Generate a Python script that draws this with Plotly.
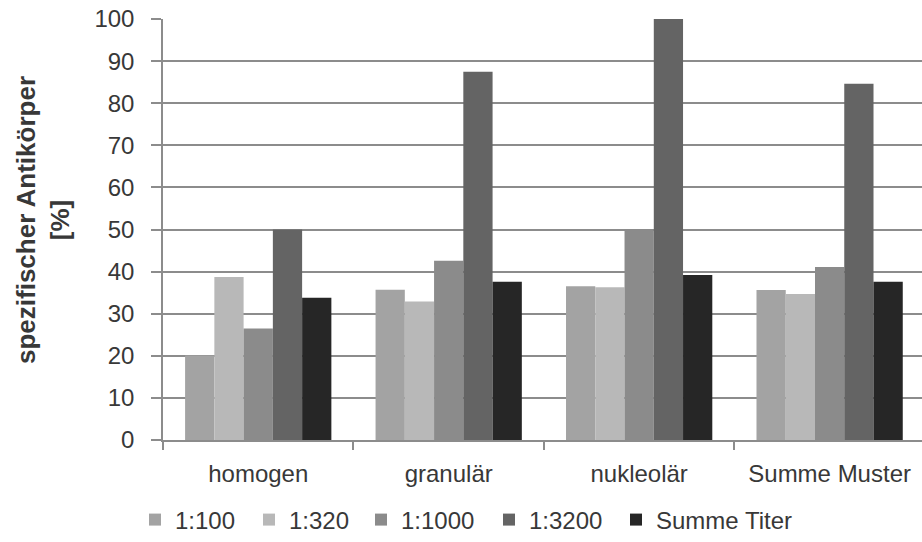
import plotly.graph_objects as go

categories = ["homogen", "granulär", "nukleolär", "Summe Muster"]
series_names = ["1:100", "1:320", "1:1000", "1:3200", "Summe Titer"]
values_1_100 = [20.1, 35.7, 36.5, 35.6]
values_1_320 = [38.7, 32.9, 36.3, 34.7]
values_1_1000 = [26.5, 42.6, 50.1, 41.1]
values_1_3200 = [50.0, 87.5, 100.0, 84.6]
values_summe = [33.8, 37.6, 39.2, 37.6]
y_ticks = [0, 10, 20, 30, 40, 50, 60, 70, 80, 90, 100]

all_values = [values_1_100, values_1_320, values_1_1000, values_1_3200, values_summe]
colors = ["#a3a3a3", "#b8b8b8", "#8b8b8b", "#646464", "#262626"]
text_color = "#383838"

L, T, R, B = 163, 19, 0, 102
FIG_W, FIG_H = 922, 542
W = FIG_W - L - R
H = FIG_H - T - B

# left edge (px) of each legend entry
legend_px = [135, 249, 361, 489, 616]

fig = go.Figure()
layout_legends = {}
for i, (name, vals, col) in enumerate(zip(series_names, all_values, colors)):
    key = "legend" if i == 0 else f"legend{i+1}"
    fig.add_trace(go.Bar(
        x=categories, y=vals, name=name, legend=key,
        marker=dict(color=col, line=dict(color=col, width=0)),
    ))
    layout_legends[key] = dict(
        orientation="h", x=(legend_px[i] - L) / W, xanchor="left",
        y=-0.19, yanchor="middle", font=dict(size=24, color=text_color),
        itemwidth=30, bgcolor="rgba(0,0,0,0)", borderwidth=0,
    )

fig.add_annotation(
    text="<b>spezifischer Antikörper<br>[%]</b>", textangle=-90,
    xref="paper", yref="paper",
    x=(43 - L) / W, y=(FIG_H - B - 220) / H,
    xanchor="center", yanchor="middle", showarrow=False,
    font=dict(size=26, color=text_color),
)

fig.update_layout(
    width=FIG_W, height=FIG_H,
    margin=dict(l=L, r=R, t=T, b=B, autoexpand=False),
    paper_bgcolor="white", plot_bgcolor="white",
    barmode="group", bargap=0.232, bargroupgap=0,
    font=dict(family="Liberation Sans, Arial, sans-serif", size=24, color=text_color),
    showlegend=True,
    xaxis=dict(
        type="category", tickson="boundaries", ticks="outside", ticklen=8,
        tickcolor="#8c8c8c", tickwidth=1.5, ticklabelstandoff=11,
        showline=True, linecolor="#8c8c8c", linewidth=1.5,
        showgrid=False, range=[-0.5, 3.485], ticklabeloverflow="allow",
        tickfont=dict(size=24, color=text_color),
    ),
    yaxis=dict(
        range=[0, 100], tickvals=y_ticks, ticks="outside", ticklen=10,
        tickcolor="#8c8c8c", tickwidth=1.5, ticklabelstandoff=12,
        showline=True, linecolor="#8c8c8c", linewidth=1.5,
        showgrid=True, gridcolor="#8c8c8c", gridwidth=1.5,
        zeroline=False, ticklabeloverflow="allow",
        tickfont=dict(size=24, color=text_color),
    ),
    **layout_legends,
)

fig.write_html(
    "out.html",
    config={"displayModeBar": False},
    post_script="document.body.style.margin='0';document.body.style.overflow='hidden';",
)
